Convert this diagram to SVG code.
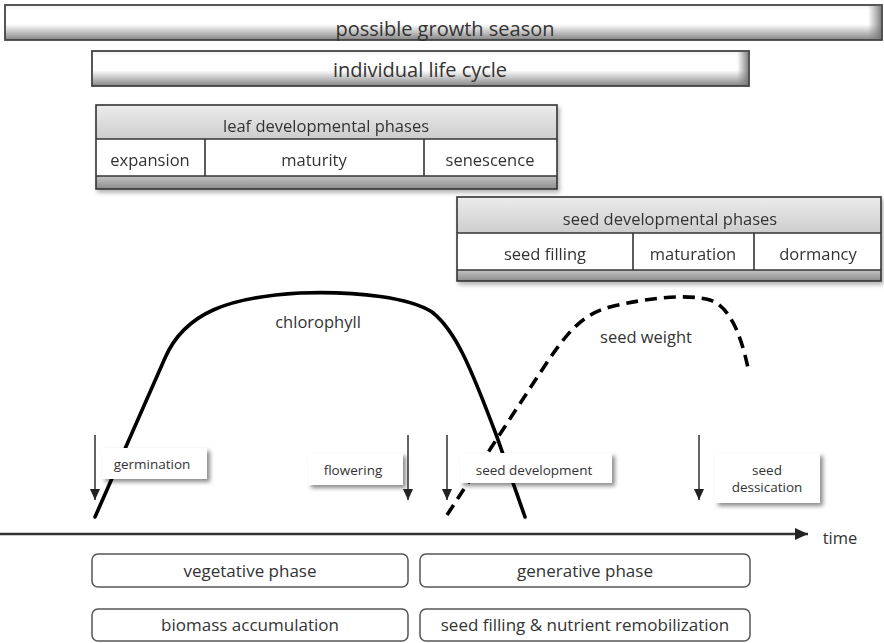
<svg xmlns="http://www.w3.org/2000/svg" width="884" height="643" viewBox="0 0 884 643">
<style>
text{font-family:"Open Sans","Liberation Sans",sans-serif;fill:#333;text-anchor:middle}
.big{font-size:20px}
.mid{font-size:16.5px}
.sm{font-size:13.5px}
.bot{font-size:17px}
.bar{stroke:#444;stroke-width:1.8}
.frame{fill:none;stroke:#333;stroke-width:1.6}
.div{stroke:#333;stroke-width:1.6}
.curve{fill:none;stroke:#000;stroke-width:3.6;stroke-linecap:round;stroke-linejoin:round}
.dash{stroke-dasharray:12 7;stroke-linecap:butt}
.lbl{fill:#fff;filter:url(#sh)}
.evt{stroke:#222;stroke-width:1.4;fill:none;marker-end:url(#ah)}
.rbox{fill:#fff;stroke:#555;stroke-width:1.5}
</style>
<defs>
<linearGradient id="bev" x1="0" y1="0" x2="0" y2="1">
<stop offset="0" stop-color="#f0f0f0"/>
<stop offset="0.15" stop-color="#fff"/>
<stop offset="0.55" stop-color="#fff"/>
<stop offset="1" stop-color="#858585"/>
</linearGradient>
<linearGradient id="bevR" x1="0" y1="0" x2="1" y2="0">
<stop offset="0" stop-color="#888" stop-opacity="0"/>
<stop offset="1" stop-color="#777" stop-opacity="0.9"/>
</linearGradient>
<linearGradient id="hdr" x1="0" y1="0" x2="0" y2="1">
<stop offset="0" stop-color="#ececec"/>
<stop offset="1" stop-color="#cdcdcd"/>
</linearGradient>
<linearGradient id="strip" x1="0" y1="0" x2="0" y2="1">
<stop offset="0" stop-color="#c4c4c4"/>
<stop offset="1" stop-color="#8c8c8c"/>
</linearGradient>
<filter id="sh" x="-20%" y="-30%" width="150%" height="180%">
<feDropShadow dx="3" dy="3" stdDeviation="2" flood-color="#000" flood-opacity="0.45"/>
</filter>
<filter id="sh2" x="-5%" y="-20%" width="110%" height="150%">
<feDropShadow dx="2" dy="3" stdDeviation="2" flood-color="#000" flood-opacity="0.3"/>
</filter>
<marker id="ah" markerUnits="userSpaceOnUse" markerWidth="11" markerHeight="13" refX="12" refY="5.5" orient="auto" viewBox="0 0 12 11">
<path d="M0,0 L12,5.5 L0,11 z" fill="#222"/>
</marker>
<marker id="ah2" markerUnits="userSpaceOnUse" markerWidth="13" markerHeight="13" refX="13" refY="6" orient="auto" viewBox="0 0 13 12">
<path d="M0,0 L13,6 L0,12 z" fill="#222"/>
</marker>
</defs>

<g id="growth-season">
<rect x="5" y="5" width="877" height="35" fill="url(#bev)" class="bar"/>
<rect x="868" y="6" width="13" height="33" fill="url(#bevR)"/>
<text class="big" x="445" y="36">possible growth season</text>
</g>

<g id="life-cycle">
<rect x="92" y="51" width="657" height="35" fill="url(#bev)" class="bar"/>
<rect x="737" y="52" width="11" height="33" fill="url(#bevR)"/>
<text class="big" x="420" y="77">individual life cycle</text>
</g>

<g id="leaf-phases" filter="url(#sh2)">
<rect x="96" y="105" width="461" height="34" fill="url(#hdr)"/>
<rect x="96" y="139" width="461" height="37" fill="#fff"/>
<rect x="96" y="176" width="461" height="13" fill="url(#strip)"/>
<rect x="96" y="105" width="461" height="84" class="frame"/>
<line x1="96" y1="139" x2="557" y2="139" class="div"/>
<line x1="96" y1="176" x2="557" y2="176" class="div"/>
<line x1="205" y1="139" x2="205" y2="176" class="div"/>
<line x1="424" y1="139" x2="424" y2="176" class="div"/>
<text class="mid" x="326" y="132">leaf developmental phases</text>
<text class="mid" x="150" y="166">expansion</text>
<text class="mid" x="314" y="166">maturity</text>
<text class="mid" x="490" y="166">senescence</text>
</g>

<g id="seed-phases" filter="url(#sh2)">
<rect x="457" y="197" width="424" height="36" fill="url(#hdr)"/>
<rect x="457" y="233" width="424" height="37" fill="#fff"/>
<rect x="457" y="270" width="424" height="11" fill="url(#strip)"/>
<rect x="457" y="197" width="424" height="84" class="frame"/>
<line x1="457" y1="233" x2="881" y2="233" class="div"/>
<line x1="457" y1="270" x2="881" y2="270" class="div"/>
<line x1="633" y1="233" x2="633" y2="270" class="div"/>
<line x1="754" y1="233" x2="754" y2="270" class="div"/>
<text class="mid" x="670" y="225">seed developmental phases</text>
<text class="mid" x="545" y="260">seed filling</text>
<text class="mid" x="693" y="260">maturation</text>
<text class="mid" x="818" y="260">dormancy</text>
</g>

<g id="chlorophyll">
<path class="curve" d="M95,517 L165,358 C185,312 230,297 300,293 C360,291 410,298 432,312 C455,330 470,365 497,437 L525,517"/>
<text class="mid" x="318" y="328">chlorophyll</text>
</g>

<g id="seed-weight">
<path class="curve dash" d="M447,515 L540,373 C565,335 580,315 610,307 C650,297 690,294 710,300 C728,306 740,330 748,368"/>
<text class="mid" x="646" y="343">seed weight</text>
</g>

<g id="germination">
<rect x="102" y="448" width="105" height="31" class="lbl"/>
<text class="sm" x="152" y="469">germination</text>
</g>
<g id="flowering">
<rect x="308" y="453" width="95" height="32" class="lbl"/>
<text class="sm" x="353" y="475">flowering</text>
</g>
<g id="seed-development">
<rect x="460" y="453" width="152" height="30" class="lbl"/>
<text class="sm" x="534" y="475">seed development</text>
</g>
<g id="seed-dessication">
<rect x="715" y="453" width="105" height="50" class="lbl"/>
<text class="sm" x="767" y="475">seed</text>
<text class="sm" x="767" y="492">dessication</text>
</g>

<g id="connectors">
<line class="evt" x1="95" y1="435" x2="95" y2="500"/>
<line class="evt" x1="408" y1="435" x2="408" y2="500"/>
<line class="evt" x1="447" y1="435" x2="447" y2="500"/>
<line class="evt" x1="699" y1="435" x2="699" y2="500"/>
<line x1="0" y1="534" x2="808" y2="534" stroke="#333" stroke-width="2.6" marker-end="url(#ah2)"/>
</g>

<g id="time">
<text class="mid" x="840" y="544">time</text>
</g>

<g id="vegetative-phase">
<rect x="92" y="554" width="316" height="33" rx="6" class="rbox"/>
<text class="bot" x="250" y="577">vegetative phase</text>
</g>
<g id="generative-phase">
<rect x="420" y="554" width="330" height="33" rx="6" class="rbox"/>
<text class="bot" x="585" y="577">generative phase</text>
</g>
<g id="biomass">
<rect x="92" y="609" width="316" height="32" rx="6" class="rbox"/>
<text class="bot" x="250" y="631">biomass accumulation</text>
</g>
<g id="remobilization">
<rect x="420" y="609" width="330" height="32" rx="6" class="rbox"/>
<text class="bot" x="585" y="631">seed filling &amp; nutrient remobilization</text>
</g>
</svg>
